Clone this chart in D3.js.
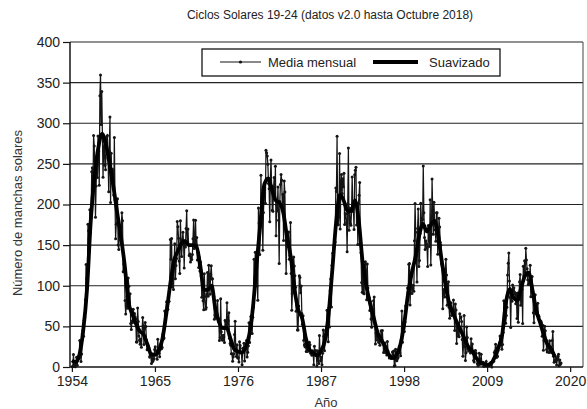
<!DOCTYPE html>
<html><head><meta charset="utf-8">
<script src="https://cdn.jsdelivr.net/npm/d3@7"></script>
<style>
html,body{margin:0;padding:0;background:#fff;}
svg{display:block;font-family:"Liberation Sans",Arial,sans-serif;}
</style></head>
<body><svg id="c" width="587" height="409"></svg>
<script>
const title = "Ciclos Solares 19-24 (datos v2.0 hasta Octubre 2018)";
const yTitle = "Número de manchas solares";
const xTitle = "Año";
const seriesNames = ["Media mensual", "Suavizado"];
const xTicks = [1954, 1965, 1976, 1987, 1998, 2009, 2020];
const yTicks = [0, 50, 100, 150, 200, 250, 300, 350, 400];
const firstYear = 1954;
// monthly mean sunspot number, one row per year (Jan..Dec), 1954 .. Oct 2018
const monthly = [
[0.3,0.7,15.4,2.5,1.1,0.3,6.8,11.9,2.1,9.9,13.0,10.8],
[32.7,29.5,6.9,16.0,40.9,44.9,37.8,57.6,60.5,82.8,126.3,108.9],
[104.2,175.6,167.7,156.8,193.4,165.1,182.8,240.2,245.3,219.9,285.0,272.0],
[233.6,184.4,222.9,248.1,233.1,284.2,265.1,223.7,333.9,359.4,298.6,339.0],
[286.7,233.5,270.0,277.5,248.2,242.8,271.0,283.5,284.9,257.0,215.7,265.6],
[307.8,202.6,263.0,231.2,243.5,238.9,211.8,282.6,205.6,157.7,175.6,177.0],
[207.2,150.1,144.7,172.8,169.4,156.0,172.3,189.9,180.1,117.2,126.9,121.2],
[82.0,65.3,75.0,86.9,72.2,109.6,99.4,79.2,90.1,53.4,46.2,56.6],
[54.8,71.2,64.6,65.7,61.9,59.5,30.9,30.9,72.6,55.9,38.1,32.9],
[28.0,34.5,24.2,41.5,60.9,50.8,27.8,47.0,54.9,50.0,33.1,21.1],
[21.7,25.1,23.4,12.2,13.5,12.9,4.4,13.2,6.7,8.6,10.5,21.4],
[24.8,20.1,16.6,9.6,34.1,22.5,16.9,12.6,23.8,28.5,22.4,24.1],
[39.9,34.6,35.8,69.0,64.1,67.5,80.3,72.5,71.1,81.0,81.0,99.7],
[157.0,132.5,158.3,98.4,122.5,95.3,129.6,151.8,108.7,124.9,133.5,179.0],
[172.5,158.5,130.6,115.0,180.1,156.2,136.1,154.8,166.0,152.5,121.8,155.5],
[147.8,170.6,192.3,151.2,169.9,150.1,137.1,138.8,129.3,135.5,132.4,138.6],
[157.9,181.0,145.7,155.1,180.5,151.2,159.3,131.7,140.9,122.6,134.8,118.2],
[129.3,111.9,85.9,101.7,81.4,70.5,114.7,86.9,71.1,73.2,89.5,116.4],
[87.1,125.2,113.4,89.5,114.0,124.6,108.3,108.7,90.6,86.8,58.9,64.1],
[61.5,60.7,65.1,81.7,60.0,55.9,32.7,36.2,84.0,43.5,33.8,33.0],
[39.1,36.8,30.2,57.1,55.9,51.0,79.0,47.6,56.9,66.7,35.4,29.0],
[26.8,16.3,16.3,7.2,12.7,16.1,39.9,56.2,19.7,12.9,27.5,11.0],
[11.5,6.1,31.0,26.6,17.6,17.3,2.7,23.2,19.1,29.2,7.4,21.7],
[23.2,32.7,12.3,18.3,26.3,54.5,30.3,42.6,62.3,62.0,41.2,61.2],
[73.5,132.5,108.3,141.2,117.1,134.7,99.7,82.3,195.7,177.1,138.6,173.7],
[235.9,194.7,195.4,143.7,190.3,211.7,225.7,201.4,266.8,263.7,259.6,249.6],
[226.0,219.5,178.7,232.4,254.7,222.7,193.0,191.7,219.5,233.2,209.4,247.0],
[161.4,200.1,191.9,221.5,180.5,127.4,203.6,224.7,236.9,230.0,194.7,212.5],
[155.7,229.0,215.3,170.8,115.1,154.6,148.5,150.6,166.3,132.6,137.3,177.8],
[115.2,69.7,90.8,110.2,135.5,124.4,112.3,98.1,68.7,76.2,45.5,45.6],
[75.1,112.2,110.1,91.5,99.7,65.8,52.5,63.0,33.0,27.0,24.9,28.7],
[19.0,26.7,19.0,23.3,25.8,30.4,27.3,17.0,17.0,14.5,19.9,17.3],
[2.8,25.5,16.6,20.4,15.1,1.2,19.9,8.1,4.2,38.9,16.7,7.5],
[12.0,2.8,16.9,45.5,38.0,20.0,38.0,44.5,39.0,69.7,45.9,31.2],
[72.6,49.2,93.7,108.2,73.9,125.2,140.0,137.3,147.7,153.9,153.9,220.4],
[216.1,284.0,176.1,175.0,185.6,262.9,170.0,226.3,236.8,213.6,231.8,221.8],
[238.5,175.5,188.7,188.7,177.8,141.8,200.9,269.4,168.4,195.7,176.7,174.4],
[191.0,233.7,198.0,195.3,169.2,236.7,242.3,245.9,174.8,201.0,150.9,201.4],
[211.5,227.2,150.5,140.7,104.1,91.9,120.8,90.9,90.1,125.1,129.4,116.5],
[82.7,126.9,97.3,86.7,85.5,69.4,80.7,59.1,48.9,60.6,71.5,81.5],
[86.1,52.8,28.2,41.9,39.2,33.3,36.2,30.5,32.3,26.9,34.4,44.6],
[34.3,45.0,28.3,17.9,19.7,29.5,18.0,20.4,14.7,31.5,19.6,14.7],
[11.2,11.6,12.8,10.4,11.9,18.4,12.2,19.8,1.2,1.8,22.0,9.2],
[7.7,10.2,11.7,20.8,24.9,17.1,14.0,32.8,68.9,30.6,52.4,55.4],
[43.8,55.3,75.2,73.3,77.3,97.1,91.4,126.6,127.5,76.2,101.6,112.4],
[90.6,96.9,100.5,93.1,155.5,201.2,165.8,136.9,104.5,170.5,194.6,123.6],
[131.0,164.2,201.4,182.5,176.8,181.6,247.3,189.7,159.5,144.5,155.3,151.8],
[146.7,123.7,174.2,165.3,148.3,205.7,125.6,163.3,231.3,192.6,163.5,202.9],
[179.5,168.9,154.8,189.9,190.0,138.9,156.7,183.1,172.4,153.4,150.2,127.1],
[124.3,71.7,95.3,93.5,86.1,120.7,132.5,113.3,76.1,102.3,104.8,73.3],
[60.1,74.3,79.0,63.5,67.1,69.8,82.6,66.1,44.8,77.6,70.3,28.9],
[48.1,44.9,37.7,37.2,65.6,60.4,61.6,55.9,34.0,13.1,27.7,63.3],
[25.0,8.1,17.6,49.1,36.2,22.6,19.8,21.0,23.4,17.1,34.8,22.1],
[28.4,17.8,8.1,6.2,19.7,20.2,16.8,10.4,4.0,1.5,2.9,17.0],
[5.7,3.5,15.6,4.9,5.4,5.7,0.8,0.8,1.8,4.9,6.9,1.3],
[2.5,2.4,1.2,2.0,4.9,4.4,5.9,0.0,7.4,7.7,7.1,17.8],
[19.8,28.1,23.3,11.9,13.3,20.4,24.3,29.6,38.1,35.5,32.6,21.9],
[27.6,42.6,81.5,78.9,60.3,53.7,63.5,73.4,113.1,127.6,140.2,105.9],
[85.4,48.5,94.0,80.8,101.0,94.4,97.4,92.2,89.9,78.0,90.5,59.7],
[91.1,55.0,83.8,104.8,114.0,76.0,82.5,95.6,53.6,124.0,112.4,130.8],
[117.2,146.1,131.8,121.0,107.5,101.5,103.5,106.6,125.2,86.6,100.2,111.5],
[93.0,66.7,54.5,75.3,88.8,66.5,65.8,64.4,78.6,63.6,62.2,58.0],
[57.0,56.4,54.1,37.9,51.5,20.5,32.4,50.2,44.6,33.4,21.4,18.5],
[26.1,26.4,17.7,32.3,18.9,19.2,17.8,32.6,43.7,13.2,5.7,8.2],
[6.8,10.7,2.5,8.9,13.1,15.6,1.6,8.7,3.3,4.9]
];
// 13-month smoothed number, sampled every half year from 1954.0
const smoothed = [
8,6, 15,45, 95,180, 235,270, 287,274, 250,222, 190,160, 125,80, 65,53, 44,40,
28,16, 15,20, 35,65, 100,130, 142,152, 155,150, 150,148, 125,95, 95,100, 72,55,
48,48, 35,22, 19,18, 24,40, 75,130, 180,225, 232,218, 205,202, 190,160, 135,95,
70,60, 35,21, 17,14, 20,32, 65,120, 178,212, 205,192, 192,205, 180,130, 100,78,
60,42, 33,25, 15,11, 15,27, 52,88, 115,135, 162,176, 167,174, 180,163, 130,100,
78,66, 55,45, 35,25, 20,12, 6,4, 2.5,4, 12,24, 40,80, 96,85, 82,97,
112,116, 95,70, 55,40, 28,22, 12
];

const svg = d3.select("#c");
const M = {l:70, r:583, t:42, b:367};
const x = d3.scaleLinear().domain([1953.75, 2021.7]).range([M.l, M.r]);
const y = d3.scaleLinear().domain([0, 400]).range([M.b, M.t]);
const ink = "#141414";

// gridlines
svg.append("g").selectAll("line").data(yTicks.filter(d=>d>0)).join("line")
  .attr("x1", M.l).attr("x2", M.r).attr("y1", d=>y(d)).attr("y2", d=>y(d))
  .attr("stroke", "#222").attr("stroke-width", 1.2);
// right border
svg.append("line").attr("x1", M.r).attr("x2", M.r).attr("y1", M.t).attr("y2", M.b)
  .attr("stroke", "#444").attr("stroke-width", 1);

// axes
const yAxis = d3.axisLeft(y).tickValues(yTicks).tickSize(7).tickPadding(3).tickFormat(d3.format("d"));
const gy = svg.append("g").attr("transform", `translate(${M.l},0)`).call(yAxis);
const xAxis = d3.axisBottom(x).tickValues(xTicks).tickSize(5).tickPadding(4).tickFormat(d3.format("d"));
const gx = svg.append("g").attr("transform", `translate(0,${M.b})`).call(xAxis);
[gy, gx].forEach(g => {
  g.select(".domain").attr("stroke", ink).attr("stroke-width", 1.5);
  g.selectAll(".tick line").attr("stroke", ink).attr("stroke-width", 1.2);
  g.selectAll(".tick text").attr("fill", "#222").style("font-size", "14px")
    .style("font-family", "'Liberation Sans', Arial, sans-serif");
});
gy.select(".domain").attr("d", `M0,${M.b}V${M.t}`);
gx.select(".domain").attr("d", `M${M.l},0H${M.r}`);

// data
const pts = [];
monthly.forEach((row, i) => row.forEach((v, m) => pts.push({t: firstYear + i + (m + 0.5) / 12, v})));
const spts = smoothed.map((v, i) => ({t: firstYear + i * 0.5, v}));

const g = svg.append("g");
g.append("path").datum(pts)
  .attr("d", d3.line().x(d=>x(d.t)).y(d=>y(d.v)))
  .attr("fill", "none").attr("stroke", ink).attr("stroke-width", 1.25);
g.append("g").selectAll("circle").data(pts).join("circle")
  .attr("cx", d=>x(d.t)).attr("cy", d=>y(d.v)).attr("r", 1.5).attr("fill", ink);
g.append("path").datum(spts)
  .attr("d", d3.line().curve(d3.curveMonotoneX).x(d=>x(d.t)).y(d=>y(d.v)))
  .attr("fill", "none").attr("stroke", "#000").attr("stroke-width", 3.8)
  .attr("stroke-linejoin", "round");

// title
svg.append("text").attr("x", 330).attr("y", 19).attr("text-anchor", "middle")
  .attr("fill", "#222").style("font-size", "12px").text(title);
svg.append("text").attr("transform", "translate(22,213) rotate(-90)").attr("text-anchor", "middle")
  .attr("fill", "#333").style("font-size", "13px").text(yTitle);
svg.append("text").attr("x", 326).attr("y", 407).attr("text-anchor", "middle")
  .attr("fill", "#333").style("font-size", "13px").text(xTitle);

// legend
const lg = svg.append("g");
lg.append("rect").attr("x", 202).attr("y", 49).attr("width", 298).attr("height", 27)
  .attr("fill", "#fff").attr("stroke", ink).attr("stroke-width", 1.3);
lg.append("line").attr("x1", 220).attr("x2", 261).attr("y1", 62).attr("y2", 62)
  .attr("stroke", ink).attr("stroke-width", 1.1);
lg.append("circle").attr("cx", 240.5).attr("cy", 62).attr("r", 1.6).attr("fill", ink);
lg.append("text").attr("x", 268).attr("y", 66.5).attr("fill", "#222").style("font-size", "13px").text(seriesNames[0]);
lg.append("line").attr("x1", 373).attr("x2", 418).attr("y1", 62).attr("y2", 62)
  .attr("stroke", "#000").attr("stroke-width", 4.2);
lg.append("text").attr("x", 429).attr("y", 66.5).attr("fill", "#222").style("font-size", "13px").text(seriesNames[1]);
</script></body></html>
